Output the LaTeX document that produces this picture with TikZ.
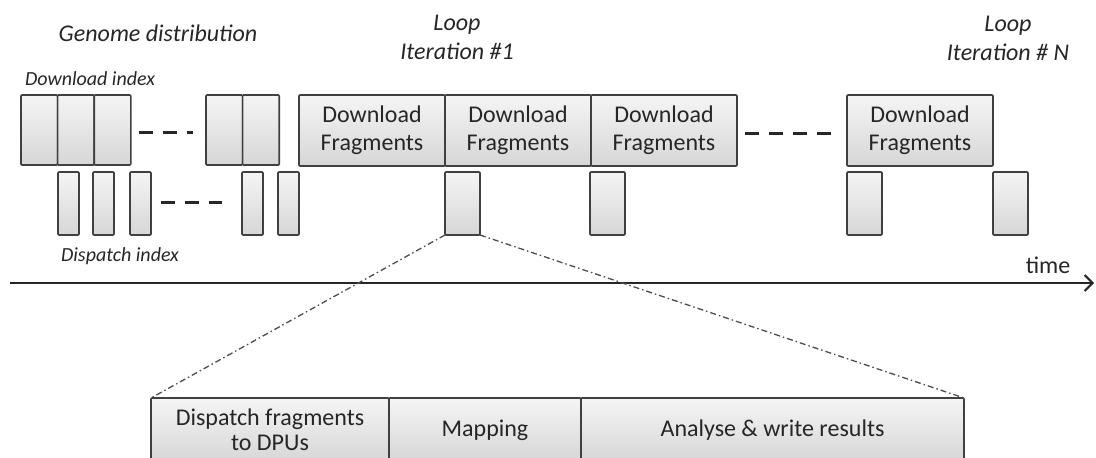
\documentclass[tikz,border=0pt]{standalone}
\usepackage{fontspec}
\setmainfont{Carlito}
\usetikzlibrary{arrows.meta,positioning}
\tikzset{
    every node/.style={font=\fontsize{24}{28}\selectfont,text=black!85},
    blk/.style={draw=black!75,line width=1.6pt,rounded corners=1pt,top color=gray!8,bottom color=gray!32,inner sep=0pt,outer sep=0pt,align=center,anchor=north west},
    dlbox/.style={blk,minimum width=36.6pt,minimum height=70pt},
    dpbox/.style={blk,minimum width=21pt,minimum height=63pt},
    fragbox/.style={blk,minimum width=146pt,minimum height=71pt},
    itbox/.style={blk,minimum width=35pt,minimum height=63pt},
    phasebox/.style={blk,minimum height=64pt,font=\fontsize{24}{25}\selectfont},
    ttl/.style={font=\fontsize{24}{29}\selectfont\itshape,align=center},
    idx/.style={font=\fontsize{20}{24}\selectfont\itshape},
    gap/.style={line width=3pt,dash pattern=on 14pt off 10pt,black!85},
    zoomline/.style={line width=1.3pt,black!70,dash pattern=on 6pt off 3pt on 1.5pt off 3pt}
}

\begin{document}
\begin{tikzpicture}[x=1pt,y=-1pt,node distance=0pt]
    \useasboundingbox (0,0) rectangle (1096,458);
    \clip (0,0) rectangle (1096,458);

    \node[ttl] (genome) at (158,33) {Genome distribution};
    \node[idx] (dlidx) at (90,79) {Download index};
    \node[idx] (dpidx) at (120,256) {Dispatch index};
    \node[ttl] (loop1) at (457,37) {Loop\\Iteration \#1};
    \node[ttl] (loopN) at (1008,38) {Loop\\Iteration \# N};

    \node[dlbox] (g1) at (21,95) {};
    \node[dlbox] (g2) [right=of g1] {};
    \node[dlbox] (g3) [right=of g2] {};
    \node[dlbox] (g4) at (206,95) {};
    \node[dlbox] (g5) [right=of g4] {};

    \foreach \x [count=\i] in {58,93,130,242,278}
        \node[dpbox] (s\i) at (\x,172) {};

    \node[fragbox] (f1) at (299,95) {Download\\Fragments};
    \node[fragbox] (f2) [right=of f1] {Download\\Fragments};
    \node[fragbox] (f3) [right=of f2] {Download\\Fragments};
    \node[fragbox] (fN) at (847,95) {Download\\Fragments};

    \node[itbox] (d1) at (445,172) {};
    \node[itbox] (d2) at (590,172) {};
    \node[itbox] (d3) at (847,172) {};
    \node[itbox] (d4) at (993,172) {};

    \coordinate (e1) at (139,132);
    \coordinate (e2) at (193,132);
    \coordinate (e3) at (161,202);
    \coordinate (e4) at (222,202);
    \coordinate (e5) at (745,133);
    \coordinate (e6) at (833,133);
    \draw[gap] (e1) -- (e2);
    \draw[gap] (e3) -- (e4);
    \draw[gap] (e5) -- (e6);

    \coordinate (t0) at (10,283);
    \coordinate (t1) at (1094,283);
    \draw[line width=2pt,black!85,-{Straight Barb[length=8pt,width=16pt]}] (t0) -- (t1);
    \node (time) at (1048,265) {time};

    \node[phasebox,minimum width=238pt] (p1) at (151,398) {Dispatch fragments\\to DPUs};
    \node[phasebox,minimum width=192pt] (p2) [right=of p1] {Mapping};
    \node[phasebox,minimum width=383pt] (p3) [right=of p2] {Analyse \& write results};

    \draw[zoomline] (d1.south west) -- (p1.north west);
    \draw[zoomline] (d1.south east) -- (p3.north east);
\end{tikzpicture}
\end{document}
